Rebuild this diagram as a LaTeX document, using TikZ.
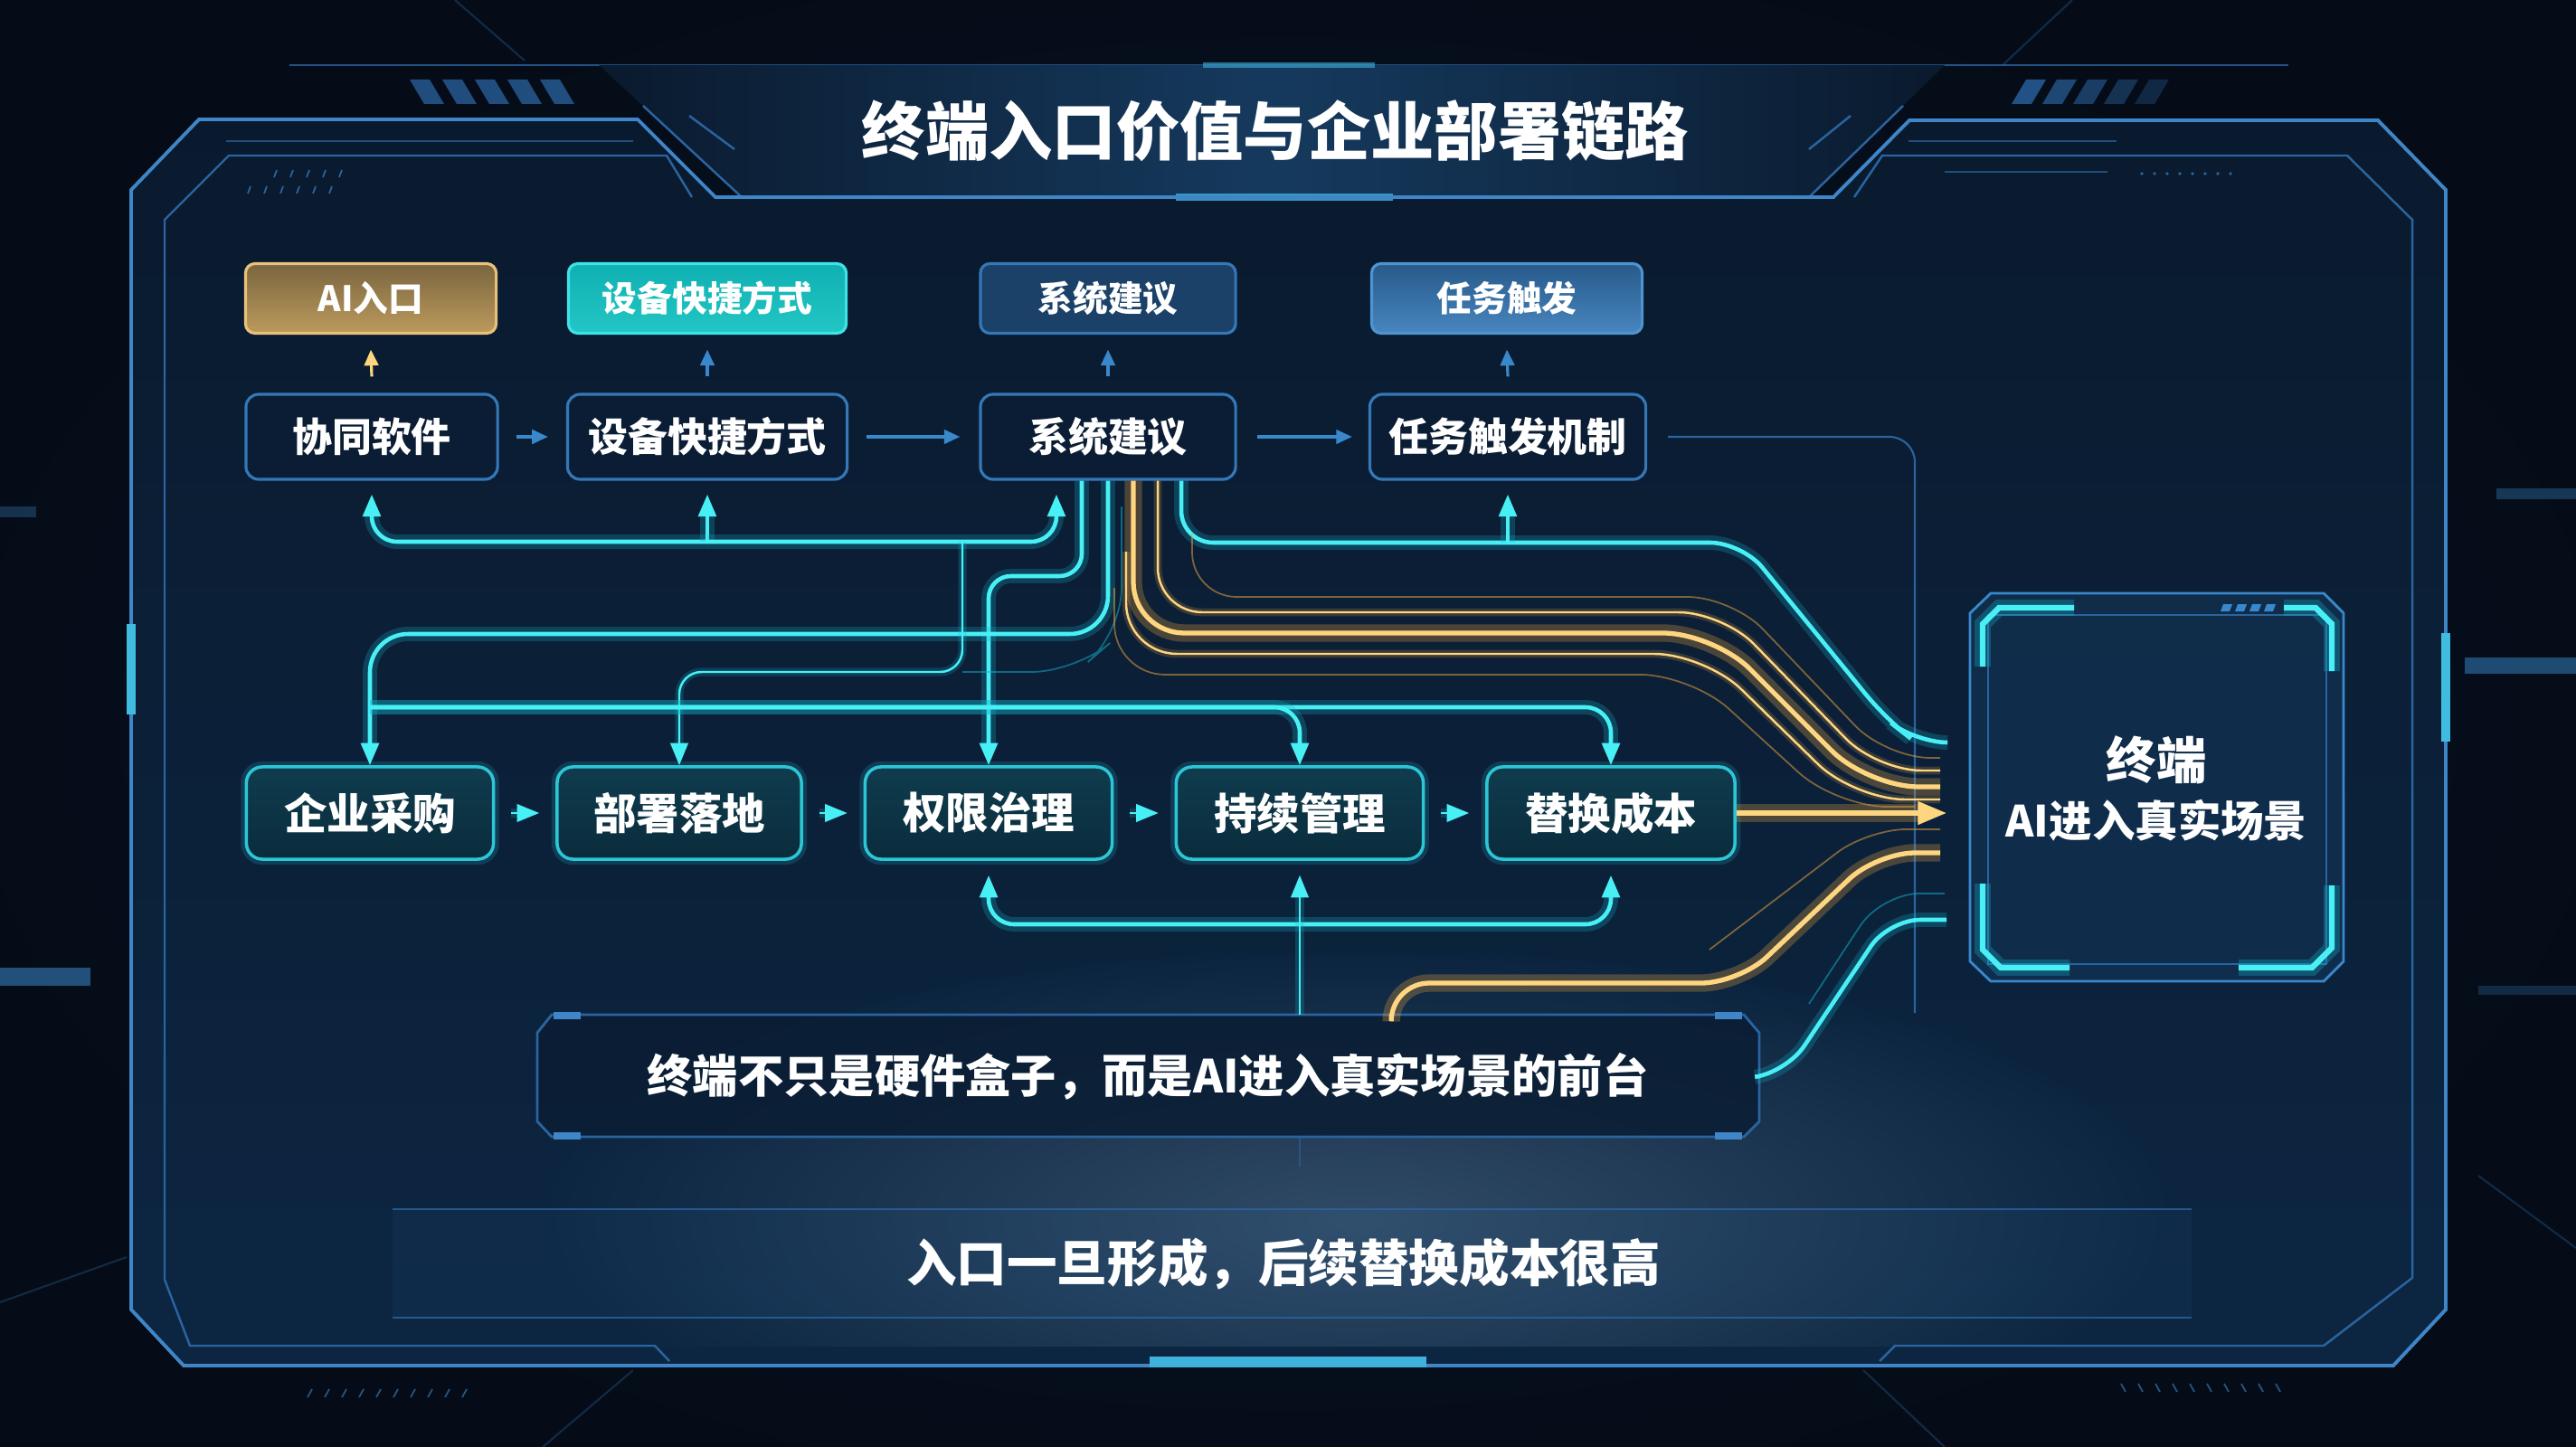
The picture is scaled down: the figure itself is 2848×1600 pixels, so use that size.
\documentclass[tikz,border=0pt]{standalone}
\usepackage{fontspec}
\setmainfont{Noto Sans CJK SC}
\usetikzlibrary{arrows.meta}

\definecolor{bgA}{HTML}{050C17}
\definecolor{panelA}{HTML}{0A1A2E}
\definecolor{panelB}{HTML}{0C2642}
\definecolor{frameC}{HTML}{3F86C8}
\definecolor{frameD}{HTML}{2A64A0}
\definecolor{cyanC}{HTML}{48F0F6}
\definecolor{cyanG}{HTML}{14B5CC}
\definecolor{goldC}{HTML}{FFD680}
\definecolor{goldG}{HTML}{E09E3E}
\definecolor{blueA}{HTML}{3A88CC}
\definecolor{nodeF}{HTML}{0A1D34}
\definecolor{nodeB}{HTML}{3478B8}
\definecolor{tealF}{HTML}{0A2C3C}
\definecolor{tealF2}{HTML}{0F3C4E}
\definecolor{tealB}{HTML}{2CC6D6}
\definecolor{tanA}{HTML}{7A6540}
\definecolor{tanB}{HTML}{BC9A5C}
\definecolor{tanC}{HTML}{E8C27A}
\definecolor{tqA}{HTML}{10B0B2}
\definecolor{tqB}{HTML}{22C6C4}

\tikzset{
  tagbox/.style={rounded corners=3pt, minimum height=0.77cm, inner sep=0pt, text=white,
    line width=0.9pt, font=\bfseries\fontsize{11}{13}\selectfont},
  midbox/.style={rounded corners=4pt, draw=nodeB, fill=nodeF, minimum height=0.94cm,
    inner sep=0pt, text=white, line width=0.9pt, font=\bfseries\fontsize{12.5}{15}\selectfont},
  lowbox/.style={rounded corners=5pt, draw=tealB, top color=tealF2, bottom color=tealF,
    minimum height=1.02cm, inner sep=0pt, text=white, line width=1pt,
    font=\bfseries\fontsize{13.5}{16}\selectfont,
    preaction={draw=tealB, line width=3.5pt, opacity=0.18}},
  cyl/.style={draw=cyanC, line width=1.3pt, preaction={draw=cyanG, line width=4.5pt, opacity=0.25}},
  cyt/.style={draw=cyanC, line width=0.7pt, preaction={draw=cyanG, line width=2.6pt, opacity=0.22}},
  cyf/.style={draw=cyanG, line width=0.5pt, opacity=0.5},
  tipC/.style={-{Triangle[length=7pt,width=5.5pt]}},
  gdl/.style={draw=goldC, line width=1.5pt, preaction={draw=goldG, line width=5.5pt, opacity=0.3}},
  gdt/.style={draw=goldC, line width=0.7pt, preaction={draw=goldG, line width=2.5pt, opacity=0.22}},
  gdf/.style={draw=goldG, line width=0.5pt, opacity=0.55},
  bluearr/.style={draw=blueA, line width=0.9pt, -{Triangle[length=5pt,width=4.4pt]}},
  thinblue/.style={draw=frameD, line width=0.6pt},
  framel/.style={draw=frameC, line width=1.1pt},
  innerl/.style={draw=frameD, line width=0.7pt},
}

\begin{document}
\begin{tikzpicture}[x=0.01cm,y=-0.01cm]
\useasboundingbox (0,0) rectangle (2848,1600);
% ---------- background ----------
\fill[bgA] (0,0) rectangle (2848,1600);
\shade[inner color=bgA!60!panelB, outer color=bgA, opacity=0.8] (1424,800) ellipse (1700 and 1000);
\foreach \a/\b/\c/\d in {503/0/580/67, 2291/0/2214/72, 0/1440/140/1390, 2848/1380/2740/1300, 600/1600/700/1515, 2150/1600/2060/1515}
  \draw[frameD, opacity=0.35, line width=0.6pt] (\a,\b) -- (\c,\d);
\fill[blueA, opacity=0.55] (0,1070) rectangle (100,1090);
\fill[blueA, opacity=0.3] (0,560) rectangle (40,572);
\fill[blueA, opacity=0.5] (2725,727) rectangle (2848,745);
\fill[blueA, opacity=0.35] (2760,540) rectangle (2848,552);
\fill[blueA, opacity=0.25] (2740,1090) rectangle (2848,1100);
\foreach \i in {0,...,9} \draw[blueA, opacity=0.6, line width=0.5pt] ({340+\i*19},1545) -- ++(5,-9);
\foreach \i in {0,...,9} \draw[blueA, opacity=0.6, line width=0.5pt] ({2345+\i*19},1530) -- ++(5,9);

% ---------- panel ----------
\shade[top color=panelA, bottom color=panelB]
  (145,210) -- (220,132) -- (705,132) -- (791,218) -- (2027,218) -- (2111,133) -- (2629,133)
  -- (2704,210) -- (2704,1448) -- (2646,1510) -- (203,1510) -- (145,1448) -- cycle;
\begin{scope}
\clip (182,243) rectangle (2667,1488);
\shade[inner color=panelB!70!blueA!70, outer color=panelB, opacity=0.45] (1500,1350) ellipse (900 and 300);
\end{scope}
% top band and title plate
\draw[frameD, line width=0.6pt, opacity=0.8] (320,72) -- (2530,72);
\shade[left color=panelA, right color=panelA, middle color=panelB!80!blueA]
  (662,72) -- (2150,72) -- (2000,218) -- (820,218) -- cycle;
\draw[frameD, line width=0.7pt] (711,117) -- (820,218);
\draw[frameD, line width=0.7pt] (2104,117) -- (2000,218);
\draw[frameD, line width=0.7pt] (762,128) -- (812,165);
\draw[frameD, line width=0.7pt] (2046,128) -- (2000,165);
\foreach \i in {0,...,4} \fill[frameD, opacity=0.75] ({453+\i*36},88) -- ++(22,0) -- ++(16,27) -- ++(-22,0) -- cycle;
\foreach \i in {0,...,4} \fill[frameD, opacity={0.8-\i*0.12}] ({2240+\i*34},88) -- ++(22,0) -- ++(-16,27) -- ++(-22,0) -- cycle;
\draw[cyanC!40!blueA, line width=2pt, opacity=0.8] (1300,218) -- (1540,218);
\draw[cyanC!40!blueA, line width=1.5pt, opacity=0.6] (1330,72) -- (1520,72);
% outer frame
\draw[framel, line join=miter]
  (145,210) -- (220,132) -- (705,132) -- (791,218) -- (2027,218) -- (2111,133) -- (2629,133)
  -- (2704,210) -- (2704,1448) -- (2646,1510) -- (203,1510) -- (145,1448) -- cycle;
% inner frame
\draw[innerl] (765,218) -- (737,172) -- (253,172) -- (182,243) -- (182,1415) -- (210,1488) -- (724,1488) -- (740,1505);
\draw[innerl] (2050,218) -- (2081,172) -- (2595,172) -- (2667,243) -- (2667,1413) -- (2569,1488) -- (2095,1488) -- (2078,1505);
\draw[frameD, line width=0.5pt, opacity=0.7] (250,156) -- (700,156);
\draw[frameD, line width=0.5pt, opacity=0.7] (2110,156) -- (2340,156);
\draw[frameD, line width=0.5pt, opacity=0.7] (2150,190) -- (2330,190);
\draw[cyanC!50!blueA, line width=3pt] (145,690) -- (145,790);
\draw[cyanC!50!blueA, line width=3pt] (2704,700) -- (2704,820);
\draw[cyanC!40!blueA, line width=3.5pt] (1271,1506) -- (1577,1506);
\foreach \i in {0,...,5} \draw[frameD, line width=0.5pt] ({274+\i*18},214) -- ++(3,-8);
\foreach \i in {0,...,4} \draw[frameD, line width=0.5pt] ({303+\i*18},196) -- ++(3,-8);
\foreach \i in {0,...,7} \fill[frameD] ({2368+\i*14},192) circle (1.8);
% bottom band
\fill[blueA, opacity=0.07] (434,1337) rectangle (2423,1457);
\draw[frameD, line width=0.6pt, opacity=0.8] (434,1337) -- (2423,1337);
\draw[frameD, line width=0.6pt, opacity=0.8] (434,1457) -- (2423,1457);

% ---------- caption box outline ----------
\fill[nodeF, opacity=0.85] (610,1122) -- (1928,1122) -- (1945,1142) -- (1945,1240) -- (1928,1257)
  -- (610,1257) -- (594,1240) -- (594,1142) -- cycle;
\draw[frameD, line width=0.8pt] (610,1122) -- (1928,1122) -- (1945,1142) -- (1945,1240) -- (1928,1257)
  -- (610,1257) -- (594,1240) -- (594,1142) -- cycle;
\draw[frameC, line width=2pt] (612,1123) -- (642,1123) (1896,1123) -- (1926,1123)
  (612,1256) -- (642,1256) (1896,1256) -- (1926,1256);

% ---------- terminal frame ----------
\fill[panelB!85!blueA, opacity=0.6] (2201,656) -- (2569,656) -- (2591,678) -- (2591,1063) -- (2569,1085)
  -- (2201,1085) -- (2178,1063) -- (2178,678) -- cycle;
\draw[blueA, line width=0.8pt] (2201,656) -- (2569,656) -- (2591,678) -- (2591,1063) -- (2569,1085)
  -- (2201,1085) -- (2178,1063) -- (2178,678) -- cycle;
\draw[frameD, line width=0.5pt] (2198,680) rectangle (2572,1066);
\foreach \p in {{(2192,737) -- (2192,690) -- (2210,672) -- (2293,672)},
                {(2525,672) -- (2560,672) -- (2578,690) -- (2578,742)},
                {(2192,977) -- (2192,1050) -- (2212,1070) -- (2288,1070)},
                {(2475,1070) -- (2556,1070) -- (2578,1048) -- (2578,979)}}
  \draw[draw=cyanC, line width=1.8pt, preaction={draw=cyanG, line width=5pt, opacity=0.3}] \p;
\foreach \i in {0,...,3} \fill[blueA] ({2458+\i*16},668) -- ++(10,0) -- ++(-3,8) -- ++(-10,0) -- cycle;

% ---------- nodes ----------
\node[font=\bfseries\fontsize{20}{24}\selectfont, text=white] (title) at (1410,145) {终端入口价值与企业部署链路};

\node[tagbox, draw=tanC, top color=tanA, bottom color=tanB, minimum width=2.77cm] (tagA) at (410,330) {AI入口};
\node[tagbox, draw=cyanC!70!tqB, top color=tqA, bottom color=tqB, minimum width=3.07cm] (tagB) at (782,330) {设备快捷方式};
\node[tagbox, draw=nodeB, fill=nodeF!60!nodeB, minimum width=2.82cm] (tagC) at (1225,330) {系统建议};
\node[tagbox, draw=blueA!90!white, top color=nodeB!75!black, bottom color=nodeB!90!white, minimum width=2.99cm] (tagD) at (1666,330) {任务触发};

\node[midbox, minimum width=2.78cm] (cg) at (411,483) {协同软件};
\node[midbox, minimum width=3.09cm] (dev) at (782,483) {设备快捷方式};
\node[midbox, minimum width=2.82cm] (sys) at (1225,483) {系统建议};
\node[midbox, minimum width=3.05cm] (task) at (1667,483) {任务触发机制};

\node[lowbox, minimum width=2.73cm] (buy) at (409,899) {企业采购};
\node[lowbox, minimum width=2.70cm] (dep) at (751,899) {部署落地};
\node[lowbox, minimum width=2.73cm] (perm) at (1093,899) {权限治理};
\node[lowbox, minimum width=2.73cm] (mgmt) at (1437,899) {持续管理};
\node[lowbox, minimum width=2.74cm] (repl) at (1781,899) {替换成本};

\node[align=center, text=white, font=\bfseries, minimum width=4.1cm, minimum height=4.28cm] (term) at (2384,872)
  {{\fontsize{15.8}{20}\selectfont 终端}\\[4pt]{\fontsize{13.5}{18}\selectfont AI进入真实场景}};

\node[minimum width=13.51cm, minimum height=1.35cm, text=white, font=\bfseries\fontsize{14.3}{18}\selectfont] (cap) at (1269,1190) {终端不只是硬件盒子，而是AI进入真实场景的前台};

\node[text=white, font=\bfseries\fontsize{15.8}{19}\selectfont] (bot) at (1419,1398) {入口一旦形成，后续替换成本很高};

% ---------- connectors ----------
\coordinate (busA) at (782,599);
\coordinate (busB) at (1064,599);
\coordinate (busT) at (1667,600);
\coordinate (busC) at (409,782);
\coordinate (busD) at (1437,1022);
\coordinate (arrowEnd) at (2152,899);

% row 2 arrows
\draw[bluearr] ([xshift=0.19cm]cg.east) -- ([xshift=-0.2cm]dev.west);
\draw[bluearr] ([xshift=0.2cm]dev.east) -- ([xshift=-0.21cm]sys.west);
\draw[bluearr] ([xshift=0.22cm]sys.east) -- ([xshift=-0.18cm]task.west);
% up arrows to tags
\draw[draw=goldC, line width=0.9pt, -{Triangle[length=5pt,width=4.4pt]}] ([yshift=0.18cm]cg.north) -- ([yshift=-0.165cm]tagA.south);
\draw[bluearr] ([yshift=0.18cm]dev.north) -- ([yshift=-0.165cm]tagB.south);
\draw[bluearr] ([yshift=0.18cm]sys.north) -- ([yshift=-0.165cm]tagC.south);
\draw[bluearr] ([yshift=0.18cm]task.north) -- ([yshift=-0.165cm]tagD.south);
% row 3 arrows
\draw[cyt, tipC] ([xshift=0.18cm]buy.east) -- ([xshift=-0.18cm]dep.west);
\draw[cyt, tipC] ([xshift=0.18cm]dep.east) -- ([xshift=-0.18cm]perm.west);
\draw[cyt, tipC] ([xshift=0.18cm]perm.east) -- ([xshift=-0.18cm]mgmt.west);
\draw[cyt, tipC] ([xshift=0.18cm]mgmt.east) -- ([xshift=-0.18cm]repl.west);

% task -> right thin line
\draw[thinblue, rounded corners=8pt] ([xshift=0.23cm]task.east) -- (2117,483) -- (2117,1120);

% top cyan bus
\draw[cyl, tipC, rounded corners=8pt] (busA) -| ([yshift=-0.15cm]cg.south);
\draw[cyl, tipC] (busA) -- ([yshift=-0.15cm]dev.south);
\draw[cyl, tipC, rounded corners=8pt] (busA) -| ([xshift=-0.57cm,yshift=-0.15cm]sys.south);
% sys -> task and terminal
\draw[cyl, rounded corners=10pt] ([xshift=0.81cm]sys.south) -- (1306,600) -- (1926,600) -- (2085,795) -- (2118,821) -- (2152,821);
\draw[cyl, tipC] (busT) -- ([yshift=-0.15cm]task.south);
% sys -> perm
\draw[cyl, tipC, rounded corners=7pt] ([xshift=-0.29cm]sys.south) -- (1196,637) -- (1093,637) -- (perm.north);
% sys -> buy
\draw[cyl, tipC, rounded corners=12pt] (sys.south) -- (1225,701) -- (409,701) -- (buy.north);
% bus -> dep
\draw[cyt, tipC, rounded corners=7pt] (busB) -- (1064,743) -- (751,743) -- (dep.north);
\draw[cyf, rounded corners=14pt] (1240,560) -- (1240,700) -- (1190,743) -- (1064,743);
% horizontal bus y=782
\draw[cyl, tipC, rounded corners=8pt] (busC) -| (repl.north);
\draw[cyl, tipC, rounded corners=8pt] (busC) -| (mgmt.north);
% lower bus
\draw[cyl, tipC, rounded corners=8pt] (busD) -| ([yshift=-0.16cm]perm.south);
\draw[cyl, tipC, rounded corners=8pt] (busD) -| ([yshift=-0.16cm]repl.south);
\draw[cyt, tipC] (cap.north -| mgmt.south) -- ([yshift=-0.16cm]mgmt.south);
\draw[thinblue, opacity=0.6] (cap.south -| mgmt.south) -- (1437,1290);

% gold flows from sys
\draw[gdf, rounded corners=14pt] (1318,590) -- (1318,660) -- (1915,660) -- (2085,838) -- (2145,838);
\draw[gdt, rounded corners=14pt] ([xshift=0.55cm]sys.south) -- (1280,677) -- (1905,677) -- (2075,852) -- (2145,852);
\draw[gdl, rounded corners=16pt] ([xshift=0.28cm]sys.south) -- (1253,700) -- (1895,700) -- (2065,870) -- (2145,870);
\draw[gdt, rounded corners=16pt] (1245,610) -- (1245,723) -- (1885,723) -- (2050,884) -- (2145,884);
\draw[gdf, rounded corners=16pt] (1232,650) -- (1232,746) -- (1870,746) -- (2030,892) -- (2117,892);
% main gold arrow
\draw[gdl, -{Triangle[length=9pt,width=7pt]}] (repl.east) -- (arrowEnd);
% lower gold
\draw[gdl, rounded corners=12pt] ([xshift=2.69cm]cap.north) -- (1538,1087) -- (1923,1087) -- (2075,943) -- (2145,943);
\draw[gdf, rounded corners=12pt] (1890,1050) -- (2065,917) -- (2145,917);
% lower cyan
\draw[cyf, rounded corners=12pt] (2000,1110) -- (2080,988) -- (2150,988);
\draw[cyl, rounded corners=10pt] (cap.east) -- (1975,1186) -- (2088,1017) -- (2152,1017);
\end{tikzpicture}
\end{document}
